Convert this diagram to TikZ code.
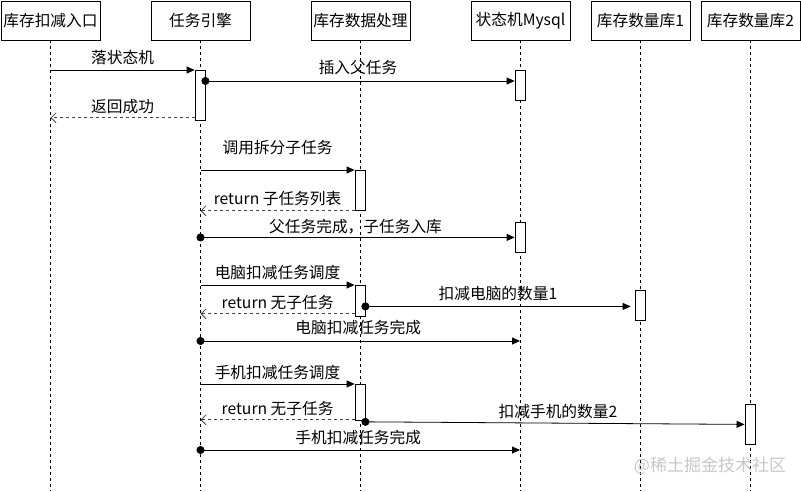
\documentclass[tikz,border=0pt]{standalone}
\usepackage{fontspec}
\newfontfamily\cjk{Noto Sans CJK SC}
\usetikzlibrary{arrows.meta, calc}
\begin{document}
\begin{tikzpicture}[x = 1pt, y = -1pt, line width = 0.8pt,
        head/.style = {draw, minimum width = 99, minimum height = 39, inner sep = 0, font = \cjk\fontsize{15.7}{18}\selectfont},
        life/.style = {dash pattern = on 3pt off 3pt},
        act/.style = {draw, fill = white, minimum width = 10, inner sep = 0, anchor = north},
        msg/.style = {-{Triangle[length = 8, width = 7]}},
        call/.style = {{Circle[length = 8]}-{Triangle[length = 8, width = 7]}},
        ret/.style = {black!75, dash pattern = on 3pt off 3pt, -{Straight Barb[length = 5, width = 10]}},
        lbl/.style = {font = \cjk\fontsize{15.7}{18}\selectfont, inner sep = 0, text = black}]
            \useasboundingbox (0, 0) rectangle (801, 491);
            \coordinate (bottom) at (0, 491);
            \foreach \n/\x/\t in {entry/50/库存扣减入口, engine/200/任务引擎, proc/360/库存数据处理, mysql/520/状态机Mysql, dbA/640/库存数量库1, dbB/750/库存数量库2} {
                \node [head] (\n) at (\x + 0.5, 20.5) {\t};
                \draw [life] (\n.south) -- (\n.south |- bottom);
            }
            \node [act, minimum height = 50] (eng1) at (200, 70) {};
            \node [act, minimum height = 30] (sql1) at (520, 70) {};
            \node [act, minimum height = 40] (proc1) at (360, 170) {};
            \node [act, minimum height = 30] (sql2) at (520, 222) {};
            \node [act, minimum height = 31] (proc2) at (360, 285) {};
            \node [act, minimum height = 30] (db1) at (640, 290) {};
            \node [act, minimum height = 36] (proc3) at (360, 384) {};
            \node [act, minimum height = 40] (db2) at (750, 404) {};
            \coordinate (done1) at (520, 341);
            \coordinate (done2) at (520, 450);
            \draw [msg] (eng1.north west -| entry) -- node [lbl, yshift = 12.5] {落状态机} (eng1.north west);
            \draw [call] ($(eng1.north east) + (-4, 11)$) -- node [lbl, yshift = 13] {插入父任务} ($(sql1.north west) + (0, 11)$);
            \draw [ret] ($(eng1.south west) + (0, -3)$) -- node [lbl, yshift = 11] {返回成功} ($(eng1.south west -| entry) + (0, -3)$);
            \draw [msg] (proc1.north west -| engine) -- node [lbl, yshift = 22] {调用拆分子任务} (proc1.north west);
            \draw [ret] (proc1.south west) -- node [lbl, yshift = 12] {return 子任务列表} (proc1.south west -| engine);
            \draw [call] ($(sql2.west -| engine) + (-4, 0)$) -- node [lbl, yshift = 11] {父任务完成，子任务入库} (sql2.west);
            \draw [msg] (proc2.north west -| engine) -- node [lbl, yshift = 12] {电脑扣减任务调度} (proc2.north west);
            \draw [call, shorten > = 4pt] ($(db1.west -| proc2.east) + (-4, 1)$) -- node [lbl, yshift = 13] {扣减电脑的数量1} ($(db1.west) + (0, 1)$);
            \draw [ret] ($(proc2.south west) + (0, -3)$) -- node [lbl, yshift = 11] {return 无子任务} ($(proc2.south west -| engine) + (0, -3)$);
            \draw [call] ($(done1 -| engine) + (-4, 0)$) -- node [lbl, yshift = 13] {电脑扣减任务完成} (done1);
            \draw [msg] (proc3.north west -| engine) -- node [lbl, yshift = 11] {手机扣减任务调度} (proc3.north west);
            \draw [ret] ($(proc3.south west) + (0, -1)$) -- node [lbl, yshift = 11] {return 无子任务} ($(proc3.south west -| engine) + (0, -1)$);
            \draw [call] ($(proc3.south east) + (-4, 1)$) -- node [lbl, yshift = 12, xshift = 5] {扣减手机的数量2} (db2.west);
            \draw [call] ($(done2 -| engine) + (-4, 0)$) -- node [lbl, yshift = 12] {手机扣减任务完成} (done2);
            \node [font = \cjk\fontsize{17}{19}\selectfont, text = black!22, inner sep = 0] (mark) at (710, 466) {@稀土掘金技术社区};
        \end{tikzpicture}
\end{document}
